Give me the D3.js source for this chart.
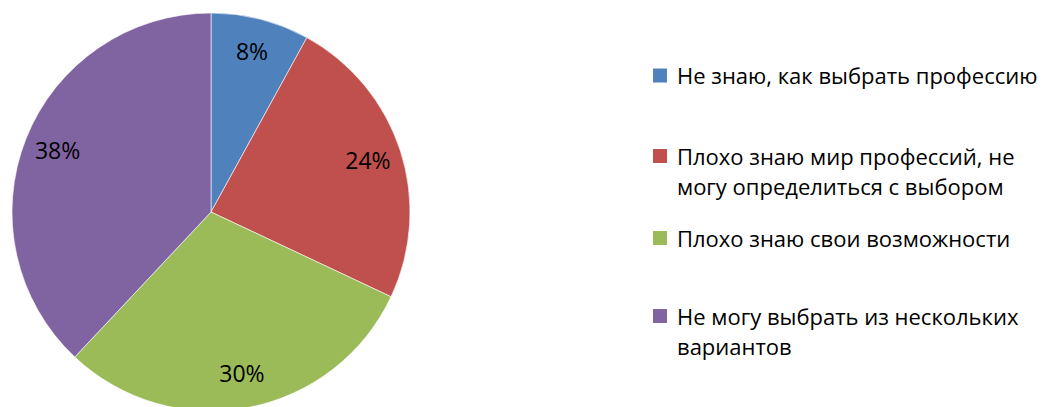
<!DOCTYPE html>
<html>
<head>
<meta charset="utf-8">
<script src="https://cdn.jsdelivr.net/npm/d3@7"></script>
<style>
  body { margin: 0; background: #fff; }
  svg { display: block; font-family: "Open Sans", "Noto Sans", sans-serif; }
</style>
</head>
<body>
<div id="main"></div>
<script>
const ctx = {
    WIDTH: 1056,
    HEIGHT: 407,
};

const categories = [
    ["Не знаю, как выбрать профессию"],
    ["Плохо знаю мир профессий, не", "могу определиться с выбором"],
    ["Плохо знаю свои возможности"],
    ["Не могу выбрать из нескольких", "вариантов"]
];
const values = [8, 24, 30, 38];
const colors = ["#4F81BD", "#C0504D", "#9BBB59", "#8064A2"];
const legendY = [75.5, 156, 238, 316];

function createViz() {
    const svg = d3.select("#main").append("svg")
        .attr("width", ctx.WIDTH)
        .attr("height", ctx.HEIGHT);

    const data = values.map((v, i) => ({ value: v, label: categories[i], color: colors[i] }));

    const pie = d3.pie().value(d => d.value).sort(null);
    const arc = d3.arc().innerRadius(0).outerRadius(199);
    const labelArc = d3.arc().innerRadius(165).outerRadius(165);

    const g = svg.append("g").attr("transform", "translate(211,212)");
    const arcs = pie(data);

    g.selectAll("path")
        .data(arcs)
        .enter().append("path")
        .attr("d", arc)
        .style("fill", d => d.data.color)
        .style("stroke", "#fff")
        .style("stroke-width", 0.6);

    g.selectAll("text")
        .data(arcs)
        .enter().append("text")
        .attr("transform", d => `translate(${labelArc.centroid(d)})`)
        .attr("text-anchor", "middle")
        .attr("dy", "0.35em")
        .style("font-size", "23px")
        .style("fill", "#000")
        .text(d => d.data.value + "%");

    // legend
    const legend = svg.append("g").attr("transform", "translate(653,0)");
    const items = legend.selectAll("g")
        .data(data)
        .enter().append("g")
        .attr("transform", (d, i) => `translate(0,${legendY[i]})`);

    items.append("rect")
        .attr("x", 0)
        .attr("y", -7)
        .attr("width", 14)
        .attr("height", 14)
        .style("fill", d => d.color);

    items.append("text")
        .style("font-size", "22px")
        .style("fill", "#000")
        .selectAll("tspan")
        .data(d => d.label)
        .enter().append("tspan")
        .attr("x", 24)
        .attr("y", (d, i) => 8.5 + i * 30)
        .text(d => d);
}

createViz();
</script>
</body>
</html>
